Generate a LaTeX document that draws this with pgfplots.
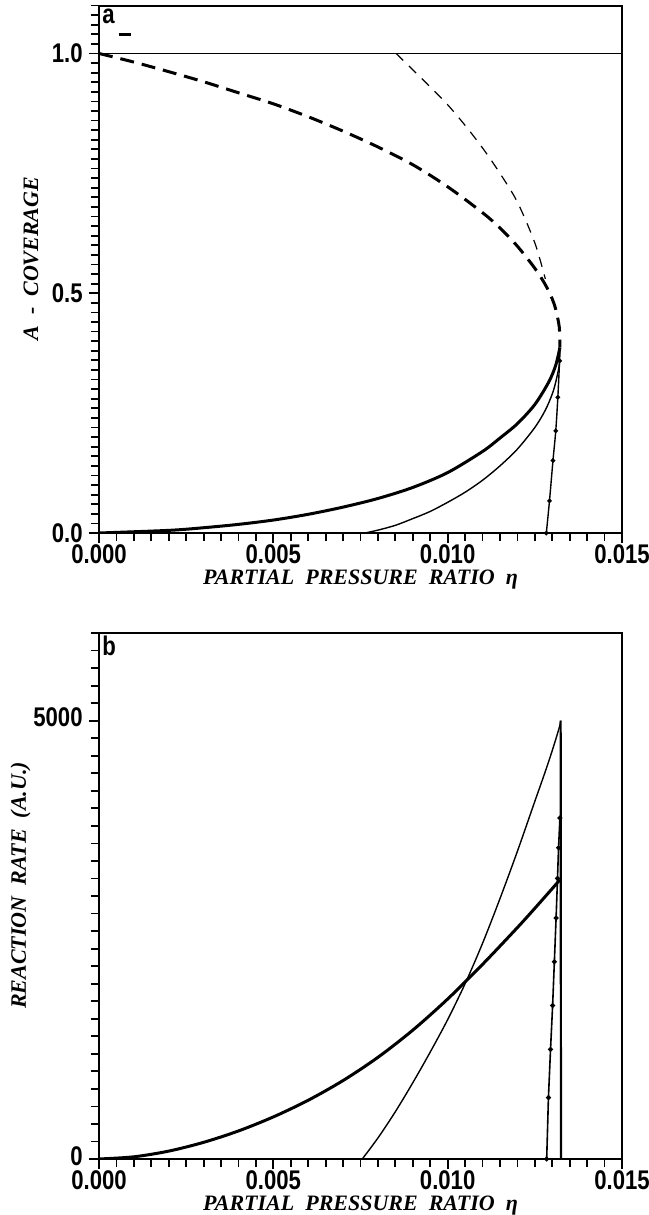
\documentclass[border=0pt]{standalone}
\usepackage{fontspec}
\setmainfont{Liberation Serif}
\newfontfamily\labfont[ItalicFont={Liberation Serif Bold Italic},UprightFont={Liberation Serif Bold Italic}]{Liberation Serif}
\newfontfamily\tickfont[FakeStretch=0.82]{Liberation Sans}
\usepackage{pgfplots}
\pgfplotsset{compat=1.18}
\pgfplotsset{
  myaxis/.style={
    scale only axis, width=261.5pt,
    xmin=0, xmax=0.015,
    xtick={0,0.005,0.01,0.015},
    minor x tick num=9,
    scaled x ticks=false, scaled y ticks=false,
    tick align=outside, tick pos=left,
    major tick length=5pt, minor tick length=4pt,
    axis line style={line width=1pt},
    every tick/.style={black, line width=0.9pt},
    /pgf/number format/assume math mode=true,
    tick label style={font=\tickfont\bfseries\fontsize{13.5}{14}\selectfont, inner sep=1pt},
    xticklabel style={yshift=0.5pt, /pgf/number format/fixed,/pgf/number format/fixed zerofill,/pgf/number format/precision=3},
    xlabel={PARTIAL\ \ PRESSURE\ \ RATIO\ \ η},
    every axis x label/.style={at={(axis description cs:0.5,-0.097)}, anchor=base, inner sep=1pt,
       font=\labfont\fontsize{11}{12}\selectfont},
  }
}
\begin{document}
\begin{tikzpicture}
\useasboundingbox (0,0) rectangle (324pt,-607.5pt);
% ---------------- panel a
\begin{axis}[myaxis, at={(49.5pt,-2.75pt)}, anchor=north west, height=263.75pt,
  ymin=0, ymax=1.1, ytick={0,0.5,1}, minor ytick={0,0.02,...,1.11},
  yticklabel style={xshift=-2pt, /pgf/number format/fixed,/pgf/number format/fixed zerofill,/pgf/number format/precision=1},
  ylabel={A\ \ -\ \ COVERAGE},
  every axis y label/.style={at={(axis description cs:-0.130,0.52)}, rotate=90, anchor=center,
       font=\labfont\fontsize{11}{12}\selectfont},
]
\addplot[line width=0.7pt] coordinates {(0,1) (0.015,1)};
\addplot[line width=1.5pt] coordinates {(0.00056,1.04) (0.00092,1.04)};
\addplot[line width=1.5pt, smooth, dash pattern=on 7pt off 4pt] coordinates {
(0,1.0) (0.001,0.982) (0.002,0.962) (0.003,0.941) (0.004,0.918) (0.005,0.895) (0.006,0.868)
(0.007,0.838) (0.008,0.805) (0.009,0.768) (0.010,0.722) (0.011,0.668) (0.0115,0.636)
(0.012,0.598) (0.0125,0.552) (0.0128,0.518) (0.0130,0.488) (0.0131,0.466) (0.0132,0.43) (0.01322,0.387)};
\addplot[line width=0.6pt, smooth, dash pattern=on 5pt off 4pt] coordinates {
(0.00852,1.0) (0.009,0.966) (0.0095,0.93) (0.010,0.893) (0.0105,0.85) (0.011,0.803)
(0.0115,0.75) (0.012,0.69) (0.0125,0.605) (0.0128,0.53)};
\addplot[line width=1.5pt, smooth] coordinates {
(0,0) (0.002,0.0055) (0.003,0.011) (0.004,0.018) (0.005,0.027) (0.006,0.039) (0.007,0.054)
(0.008,0.072) (0.009,0.095) (0.010,0.126) (0.011,0.170) (0.0115,0.198) (0.012,0.228)
(0.0125,0.268) (0.0129,0.315) (0.0131,0.350) (0.01322,0.387)};
\addplot[line width=0.7pt, smooth] coordinates {
(0.00763,0) (0.008,0.006) (0.0085,0.016) (0.009,0.03) (0.0095,0.045) (0.010,0.064)
(0.0105,0.085) (0.011,0.110) (0.0115,0.140) (0.012,0.175) (0.0125,0.220) (0.0128,0.256)
(0.0130,0.29) (0.0131,0.315) (0.0132,0.35) (0.01322,0.38)};
\addplot[line width=0.7pt, smooth, mark=*, mark size=0.8pt] coordinates {
(0.01283,0) (0.01292,0.067) (0.01302,0.151) (0.0131,0.213) (0.01316,0.283) (0.01321,0.359)};
\node[anchor=north west, inner sep=1.5pt, font=\tickfont\bfseries\fontsize{13.5}{14}\selectfont] at (rel axis cs:0,1) {a};
\end{axis}
% ---------------- panel b
\begin{axis}[myaxis, at={(49.5pt,-316.5pt)}, anchor=north west, height=263pt,
  ymin=0, ymax=6000, ytick={0,5000}, minor ytick={0,200,...,6000},
  yticklabel style={xshift=-2pt, yshift=1.5pt, /pgf/number format/1000 sep={}},
  ylabel={REACTION\ \ RATE\ \ (A.U.)},
  every axis y label/.style={at={(axis description cs:-0.150,0.52)}, rotate=90, anchor=center,
       font=\labfont\fontsize{11}{12}\selectfont},
]
\addplot[line width=0.7pt, smooth] coordinates {
(0.00755,0) (0.008,240) (0.0085,540) (0.009,870) (0.0095,1220) (0.010,1590) (0.0105,2000)
(0.011,2460) (0.0115,2970) (0.012,3510) (0.0125,4080) (0.0128,4420) (0.0130,4660)
(0.0132,4920) (0.01324,5000)};
\addplot[line width=1.1pt] coordinates {(0.01324,5000) (0.01325,0)};
\addplot[line width=1.5pt, smooth] coordinates {
(0,0) (0.001,25) (0.002,90) (0.003,190) (0.004,320) (0.005,480) (0.006,670) (0.007,895)
(0.008,1160) (0.009,1470) (0.010,1825) (0.011,2220) (0.012,2640) (0.0125,2860)
(0.013,3085) (0.01322,3185)};
\addplot[line width=0.8pt, mark=*, mark size=0.8pt] coordinates {
(0.01284,0) (0.01289,700) (0.01295,1250) (0.01301,1750) (0.01306,2250) (0.01311,2750)
(0.01315,3200) (0.01318,3550) (0.01322,3890)};
\node[anchor=north west, inner sep=1.5pt, font=\tickfont\bfseries\fontsize{13.5}{14}\selectfont] at (rel axis cs:0,1) {b};
\end{axis}
\end{tikzpicture}
\end{document}
